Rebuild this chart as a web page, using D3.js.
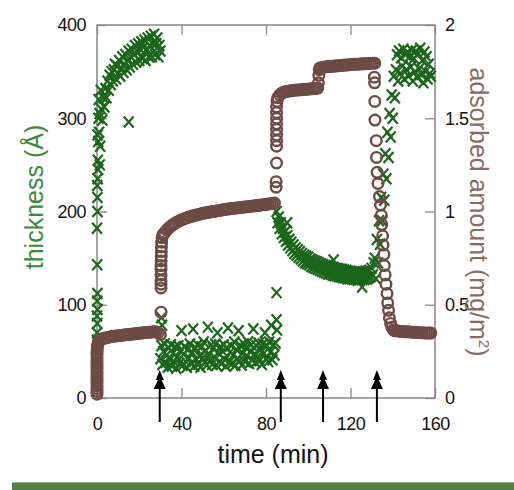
<!DOCTYPE html>
<html>
<head>
<meta charset="utf-8">
<script src="https://cdn.jsdelivr.net/npm/d3@7"></script>
<style>
  body { margin: 0; background: #fff; }
  svg { display: block; font-family: "Liberation Sans", Arial, sans-serif; }
</style>
</head>
<body>
<svg width="514" height="490"></svg>
<script>
// ---- data ----
const timeTicks = [0, 40, 80, 120, 160];
const thicknessTicks = [0, 100, 200, 300, 400];
const adsorbedTicks = [0, 0.5, 1, 1.5, 2];
const injectionTimes = [29.7, 87, 107, 132.5]; // arrows

// thickness (A): isolated readings [time, value]
const thicknessScatter = [
    [0, 62], [0, 70], [0.1, 80], [0, 88], [0.2, 95], [0.1, 104], [0.2, 112], [0.1, 143],
    [0, 182], [0.2, 200], [0.1, 228], [0.2, 215], [0.3, 235], [0.4, 255], [0.6, 275],
    [0.7, 300], [0.8, 320], [0.3, 282], [1.2, 305], [1.8, 330], [1.3, 250], [15, 296],
    [30.5, 86], [30.8, 78], [85, 113], [85, 84], [85.2, 73], [90, 188], [112, 148], [125.5, 119]
];
// thickness runs, one reading every 0.5 min
const thicknessStep = 0.5;
const thicknessRun1 = [ // from 0.5 min
    245, 285, 270, 310, 298, 322, 312, 332, 322, 340, 330, 346, 336, 350, 340, 352, 358, 342, 356, 348,
    362, 345, 354, 366, 349, 358, 368, 352, 362, 372, 355, 366, 374, 358, 369, 378, 360, 372, 380, 362,
    374, 382, 364, 376, 384, 362, 374, 386, 366, 378, 388, 366, 380, 390, 368, 380, 386, 366, 378, 372
];
const thicknessRun2 = [ // from 30 min
    42, 56, 36, 50, 58, 38, 46, 33, 54, 41, 57, 34, 48, 39, 55, 32, 44, 56, 37, 51,
    72, 35, 47, 55, 39, 33, 52, 43, 58, 37, 49, 74, 34, 54, 41, 57, 36, 45, 33, 55,
    43, 60, 38, 51, 35, 76, 46, 40, 57, 36, 53, 44, 58, 35, 70, 48, 39, 55, 37, 50,
    57, 41, 34, 54, 75, 38, 49, 56, 37, 46, 60, 35, 52, 42, 72, 40, 56, 35, 48, 58,
    39, 54, 45, 60, 37, 50, 57, 41, 74, 47, 38, 56, 44, 59, 40, 52, 36, 58, 48, 70,
    42, 56, 39, 60, 49, 78, 41, 57, 46, 59
];
const thicknessRun3 = [ // from 85 min
    200, 188, 194, 182, 188, 176, 182, 172, 178, 168, 174, 164, 170, 161, 167, 158, 164, 155, 161, 153,
    159, 151, 157, 149, 155, 147, 153, 145, 152, 144, 151, 143, 149, 141, 148, 140, 147, 139, 146, 138,
    145, 137, 144, 136, 143, 135, 142, 134, 142, 133, 141, 133, 140, 132, 140, 131, 139, 131, 139, 130,
    138, 130, 138, 129, 137, 129, 137, 128, 136, 128, 136, 128, 135, 127, 135, 127, 135, 126, 134, 127,
    135, 127, 135, 127, 136, 128, 136, 129, 137, 130, 139, 132, 145
];
const thicknessRun4 = [ // from 131.5 min
    150, 128, 170, 145, 190, 165, 215, 190, 240, 212, 262, 235, 285, 258, 305, 280, 325, 300, 345, 322,
    352, 368, 340, 372, 348, 365, 356, 374, 342, 368, 352, 371, 345, 366, 355, 373, 340, 364, 350, 372,
    344, 369, 353, 375, 347, 362, 338, 371, 350, 366, 342, 358, 348, 345
];
const thicknessRuns = [[0.5, thicknessRun1], [30, thicknessRun2], [85, thicknessRun3], [131.5, thicknessRun4]];

// adsorbed amount (mg/m2): isolated readings [time, value] during the steps
const adsorbedScatter = [
    [0, 0.02], [0, 0.035], [0, 0.05], [0, 0.065], [0, 0.08], [0, 0.095], [0, 0.11], [0, 0.125],
    [0, 0.14], [0, 0.155], [0, 0.17], [0, 0.185], [0, 0.2], [0, 0.215], [0, 0.23], [0, 0.245],
    [0.1, 0.26], [0.2, 0.275], [0.4, 0.29], [0.7, 0.3], [1, 0.305], [1.5, 0.31],
    [30.3, 0.46], [30.3, 0.59], [30.3, 0.61], [30.3, 0.63], [30.3, 0.66], [30.3, 0.69], [30.3, 0.71],
    [30.35, 0.735], [30.4, 0.76], [30.45, 0.785], [30.5, 0.81], [30.6, 0.835], [30.8, 0.86],
    [31.2, 0.875], [31.6, 0.88],
    [84.8, 1.13], [84.8, 1.16], [85, 1.26], [85, 1.35], [85, 1.38], [85, 1.41], [85, 1.44], [85, 1.47],
    [85, 1.5], [85, 1.53], [85, 1.56], [85.2, 1.59],
    [104.8, 1.69], [105, 1.73], [105.2, 1.76],
    [131.3, 1.72], [131.4, 1.69], [131.5, 1.59], [131.6, 1.49], [132.2, 1.38], [132.3, 1.29], [132.6, 1.21],
    [133, 1.15], [133.7, 1.08], [134.2, 1.035], [134.6, 0.98], [134.8, 0.93], [135.2, 0.87], [135.4, 0.82],
    [135.8, 0.77], [136, 0.71], [136.4, 0.66], [136.8, 0.61], [137.3, 0.56], [137.6, 0.51], [138, 0.47],
    [138.4, 0.43], [139, 0.4], [139.6, 0.38], [140.3, 0.365]
];
// adsorbed runs, one reading per minute
const adsorbedStep = 1;
const adsorbedRun1 = [ // from 2 min
    0.315, 0.32, 0.322, 0.325, 0.327, 0.33, 0.331, 0.333, 0.334, 0.335, 0.337, 0.338, 0.34, 0.341,
    0.342, 0.343, 0.345, 0.346, 0.347, 0.348, 0.35, 0.351, 0.352, 0.353, 0.354, 0.355, 0.355, 0.35, 0.34
];
const adsorbedRun2 = [ // from 32 min
    0.885, 0.9, 0.912, 0.922, 0.93, 0.937, 0.944, 0.95, 0.955, 0.96, 0.964, 0.968, 0.972, 0.975,
    0.978, 0.981, 0.984, 0.987, 0.99, 0.992, 0.994, 0.996, 0.998, 1.0, 1.002, 1.004, 1.006, 1.008,
    1.01, 1.012, 1.013, 1.015, 1.016, 1.018, 1.019, 1.02, 1.022, 1.023, 1.024, 1.026, 1.027, 1.028,
    1.03, 1.031, 1.032, 1.034, 1.035, 1.037, 1.038, 1.04, 1.042, 1.043, 1.045
];
const adsorbedRun3 = [ // from 85.5 min
    1.61, 1.625, 1.635, 1.64, 1.643, 1.645, 1.647, 1.648, 1.65, 1.651, 1.652, 1.653, 1.654, 1.655,
    1.656, 1.657, 1.658, 1.66, 1.66, 1.662
];
const adsorbedRun4 = [ // from 105.5 min
    1.77, 1.772, 1.774, 1.776, 1.777, 1.778, 1.779, 1.78, 1.781, 1.782, 1.783, 1.784, 1.785, 1.786,
    1.787, 1.788, 1.789, 1.79, 1.79, 1.791, 1.792, 1.792, 1.793, 1.794, 1.794, 1.795, 1.795
];
const adsorbedRun5 = [ // from 141 min
    0.36, 0.36, 0.358, 0.357, 0.356, 0.355, 0.355, 0.354, 0.353, 0.352, 0.352, 0.351, 0.35, 0.35,
    0.349, 0.349, 0.348, 0.348
];
const adsorbedRuns = [[2, adsorbedRun1], [32, adsorbedRun2], [85.5, adsorbedRun3], [105.5, adsorbedRun4], [141, adsorbedRun5]];

// ---- chart ----
const GREEN = '#1b661b';
const BROWN = '#6d4b44';

const $svg = d3.select('svg');
const plot = {left: 97, right: 435, top: 25, bottom: 398};

const x = d3.scaleLinear().domain([0, 160]).range([plot.left, plot.right]);
const yThick = d3.scaleLinear().domain([0, 400]).range([plot.bottom, plot.top]);
const yAds = d3.scaleLinear().domain([0, 2]).range([plot.bottom, plot.top]);

// expand runs into [time, value] points
const expand = (runs, step) => runs.flatMap(([start, values]) => values.map((v, i) => [start + i * step, v]));
const thicknessPoints = thicknessScatter.concat(expand(thicknessRuns, thicknessStep));
const adsorbedPoints = adsorbedScatter.concat(expand(adsorbedRuns, adsorbedStep));

// axes (ticks pointing inward)
const styleAxis = (g) => {
    g.select('.domain').remove();
    g.selectAll('line').attr('stroke', '#888').attr('stroke-width', 1.3);
    g.selectAll('text').attr('fill', '#111').style('font-size', '18px').style('letter-spacing', '-0.5px');
};
$svg.append('g').attr('transform', `translate(0,${plot.bottom})`)
    .call(d3.axisBottom(x).tickValues(timeTicks).tickSize(-10).tickPadding(19)).call(styleAxis);
$svg.append('g').attr('transform', `translate(0,${plot.top})`)
    .call(d3.axisTop(x).tickValues(timeTicks).tickSize(-10).tickFormat('')).call(styleAxis);
$svg.append('g').attr('transform', `translate(${plot.left},0)`)
    .call(d3.axisLeft(yThick).tickValues(thicknessTicks).tickSize(-10).tickPadding(11)).call(styleAxis);
$svg.append('g').attr('transform', `translate(${plot.right},0)`)
    .call(d3.axisRight(yAds).tickValues(adsorbedTicks).tickSize(-10).tickPadding(10)
        .tickFormat(d3.format('~g'))).call(styleAxis);

// frame
$svg.append('rect')
    .attr('x', plot.left).attr('y', plot.top)
    .attr('width', plot.right - plot.left).attr('height', plot.bottom - plot.top)
    .attr('fill', 'none').attr('stroke', '#888').attr('stroke-width', 1.5);

// thickness markers (x)
$svg.append('g').selectAll('path').data(thicknessPoints).join('path')
    .attr('transform', (d) => `translate(${x(d[0])},${yThick(d[1])})`)
    .attr('d', 'M-5,-5.5L5,5.5M-5,5.5L5,-5.5')
    .attr('stroke', GREEN).attr('stroke-width', 2.2).attr('fill', 'none');

// adsorbed amount markers (open circles)
$svg.append('g').selectAll('circle').data(adsorbedPoints).join('circle')
    .attr('cx', (d) => x(d[0])).attr('cy', (d) => yAds(d[1]))
    .attr('r', 5.3)
    .attr('fill', 'none').attr('stroke', BROWN).attr('stroke-width', 2.4);

// injection arrows
const $arrows = $svg.append('g').selectAll('g').data(injectionTimes).join('g')
    .attr('transform', (d) => `translate(${x(d)},${plot.bottom})`);
$arrows.append('line').attr('y1', 24).attr('y2', -20).attr('stroke', '#000').attr('stroke-width', 2);
$arrows.append('path').attr('d', 'M0,-22L6,-9L-6,-9Z').attr('fill', '#000');
$arrows.append('path').attr('d', 'M0,-28L4,-18L-4,-18Z').attr('fill', '#000');

// axis titles
$svg.append('text')
    .attr('transform', 'translate(43,197) rotate(-90)')
    .attr('text-anchor', 'middle').style('font-size', '25px').attr('fill', '#3a8a3a')
    .text('thickness (Å)');

const $right = $svg.append('text')
    .attr('transform', 'translate(470,212) rotate(90)')
    .attr('text-anchor', 'middle').style('font-size', '25px').attr('fill', '#8a6a62');
$right.append('tspan').text('adsorbed amount (mg/m');
$right.append('tspan').attr('dy', -9).style('font-size', '15px').text('2');
$right.append('tspan').attr('dy', 9).text(')');

$svg.append('text')
    .attr('x', 273).attr('y', 463)
    .attr('text-anchor', 'middle').style('font-size', '25px').attr('fill', '#111')
    .text('time (min)');

// green strip along the bottom
$svg.append('rect').attr('x', 12).attr('y', 482).attr('width', 502).attr('height', 8).attr('fill', '#557e47');
$svg.append('line').attr('x1', 12).attr('x2', 514).attr('y1', 482.5).attr('y2', 482.5)
    .attr('stroke', '#9bb590').attr('stroke-width', 1);
</script>
</body>
</html>
